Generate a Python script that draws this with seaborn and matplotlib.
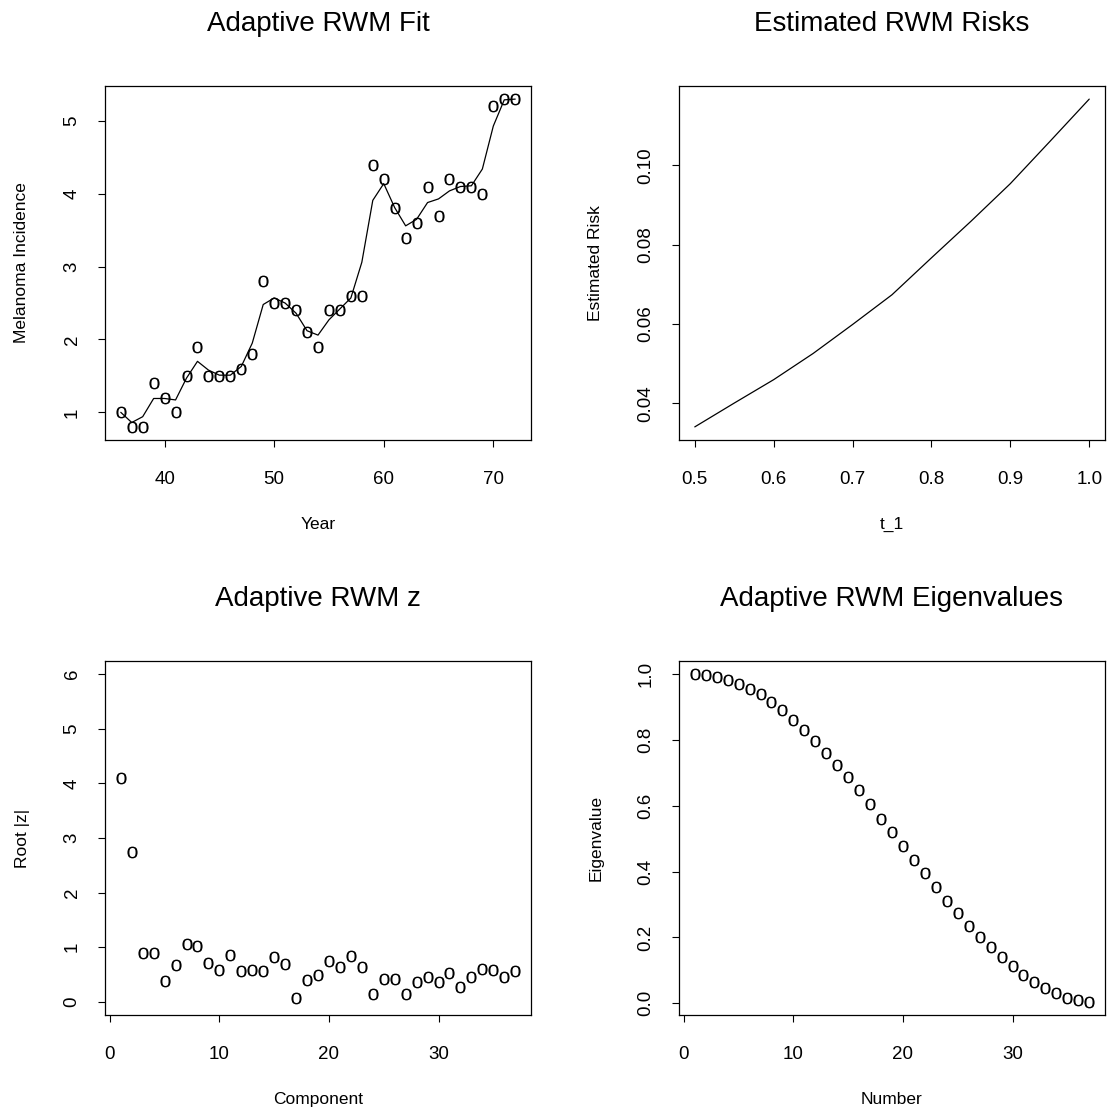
import numpy as np
import pandas as pd
import seaborn as sns
import matplotlib
matplotlib.use('Agg')
import matplotlib.pyplot as plt

# melanoma data and adaptive fit
years = list(range(36, 73))
incidence = [1.0, 0.8, 0.8, 1.4, 1.2, 1.0, 1.5, 1.9, 1.5, 1.5, 1.5, 1.6, 1.8,
             2.8, 2.5, 2.5, 2.4, 2.1, 1.9, 2.4, 2.4, 2.6, 2.6, 4.4, 4.2, 3.8,
             3.4, 3.6, 4.1, 3.7, 4.2, 4.1, 4.1, 4.0, 5.2, 5.3, 5.3]
fitted = [1.00, 0.86, 0.94, 1.19, 1.19, 1.17, 1.47, 1.70, 1.58, 1.51, 1.51,
          1.63, 1.95, 2.48, 2.57, 2.50, 2.36, 2.12, 2.06, 2.27, 2.42, 2.57,
          3.06, 3.91, 4.14, 3.81, 3.56, 3.65, 3.88, 3.93, 4.04, 4.10, 4.11,
          4.34, 4.93, 5.29, 5.30]

# estimated risk vs t_1
t1 = [0.50, 0.55, 0.60, 0.65, 0.70, 0.75, 0.80, 0.85, 0.90, 0.95, 1.00]
risk = [0.0341, 0.0401, 0.0460, 0.0526, 0.0599, 0.0674, 0.0767, 0.0859,
        0.0954, 0.1060, 0.1167]

# root |z| by component
components = list(range(1, 38))
root_z = [4.09, 2.75, 0.90, 0.90, 0.39, 0.68, 1.06, 1.03, 0.71, 0.58, 0.86,
          0.56, 0.58, 0.57, 0.82, 0.69, 0.07, 0.40, 0.50, 0.75, 0.64, 0.84,
          0.64, 0.15, 0.41, 0.42, 0.15, 0.37, 0.46, 0.37, 0.53, 0.27, 0.46,
          0.60, 0.59, 0.46, 0.57]

# eigenvalues
numbers = list(range(1, 38))
eigen = [1.000, 0.997, 0.990, 0.982, 0.970, 0.955, 0.939, 0.916, 0.890, 0.860,
         0.830, 0.797, 0.761, 0.723, 0.687, 0.647, 0.604, 0.560, 0.520, 0.477,
         0.436, 0.395, 0.352, 0.312, 0.273, 0.236, 0.202, 0.172, 0.139, 0.112,
         0.085, 0.063, 0.045, 0.030, 0.017, 0.010, 0.004]

sns.set_theme(style='ticks')
plt.rcParams['font.family'] = ['Liberation Sans', 'DejaVu Sans']
plt.rcParams['mathtext.fontset'] = 'custom'
plt.rcParams['mathtext.rm'] = 'Liberation Sans'

W, H = 1109, 1114
fig = plt.figure(figsize=(W / 100, H / 100), dpi=100)

def make_ax(left, top, w=426, h=354):
    return fig.add_axes([left / W, 1 - (top + h) / H, w / W, h / H])

def rlim(vals):
    lo, hi = min(vals), max(vals)
    d = (hi - lo) * 0.04
    return lo - d, hi + d

OMARK = r'$\mathrm{o}$'
MS = 72

def style(ax, title, xlabel, ylabel, xticks, yticks, xfmt, yfmt):
    ax.set_xticks(xticks)
    ax.set_yticks(yticks)
    ax.set_xticklabels([xfmt.format(v) for v in xticks])
    ax.set_yticklabels([yfmt.format(v) for v in yticks])
    ax.tick_params(axis='both', direction='out', length=5, width=0.8,
                   color='black', labelsize=13.5, labelcolor='black')
    ax.tick_params(axis='x', pad=17.5)
    ax.tick_params(axis='y', pad=12.5, labelrotation=90)
    for lab in ax.get_yticklabels():
        lab.set_va('center')
    for s in ax.spines.values():
        s.set_color('black')
        s.set_linewidth(0.9)
    ax.set_title(title, fontsize=20, color='black', y=1 + 54 / 354, va='center')
    ax.set_xlabel(xlabel, fontsize=12.5, color='black')
    ax.set_ylabel(ylabel, fontsize=12.5, color='black')
    ax.xaxis.set_label_coords(0.5, -84.5 / 354)
    ax.xaxis.label.set_va('center')
    ax.yaxis.set_label_coords(-83 / 426, 0.5)
    ax.yaxis.label.set_va('center')

# Panel 1: fit
ax1 = make_ax(105, 86)
df1 = pd.DataFrame({'Year': years, 'inc': incidence, 'fit': fitted})
sns.lineplot(data=df1, x='Year', y='fit', ax=ax1, color='black', linewidth=0.9,
             estimator=None, sort=False)
sns.scatterplot(data=df1, x='Year', y='inc', ax=ax1, marker=OMARK, s=MS,
                color='black', edgecolor='black', linewidth=0, legend=False)
ax1.set_xlim(rlim(years))
ax1.set_ylim(rlim(incidence))
style(ax1, 'Adaptive RWM Fit', 'Year', 'Melanoma Incidence',
      [40, 50, 60, 70], [1, 2, 3, 4, 5], '{}', '{}')

# Panel 2: risk
ax2 = make_ax(679, 86)
df2 = pd.DataFrame({'t_1': t1, 'risk': risk})
sns.lineplot(data=df2, x='t_1', y='risk', ax=ax2, color='black', linewidth=0.9,
             estimator=None)
ax2.set_xlim(rlim(t1))
ax2.set_ylim(rlim(risk))
style(ax2, 'Estimated RWM Risks', 't_1', 'Estimated Risk',
      [0.5, 0.6, 0.7, 0.8, 0.9, 1.0], [0.04, 0.06, 0.08, 0.10], '{:.1f}', '{:.2f}')

# Panel 3: z
ax3 = make_ax(105, 661)
df3 = pd.DataFrame({'Component': components, 'z': root_z})
sns.scatterplot(data=df3, x='Component', y='z', ax=ax3, marker=OMARK, s=MS,
                color='black', edgecolor='black', linewidth=0, legend=False)
ax3.set_xlim(rlim(components))
ax3.set_ylim(rlim([0, 6]))
style(ax3, 'Adaptive RWM z', 'Component', 'Root |z|',
      [0, 10, 20, 30], [0, 1, 2, 3, 4, 5, 6], '{}', '{}')

# Panel 4: eigenvalues
ax4 = make_ax(679, 661)
df4 = pd.DataFrame({'Number': numbers, 'ev': eigen})
sns.scatterplot(data=df4, x='Number', y='ev', ax=ax4, marker=OMARK, s=MS,
                color='black', edgecolor='black', linewidth=0, legend=False)
ax4.set_xlim(rlim(numbers))
ax4.set_ylim(rlim(eigen))
style(ax4, 'Adaptive RWM Eigenvalues', 'Number', 'Eigenvalue',
      [0, 10, 20, 30], [0.0, 0.2, 0.4, 0.6, 0.8, 1.0], '{}', '{:.1f}')

fig.savefig('out.png', dpi=100, facecolor='white')
